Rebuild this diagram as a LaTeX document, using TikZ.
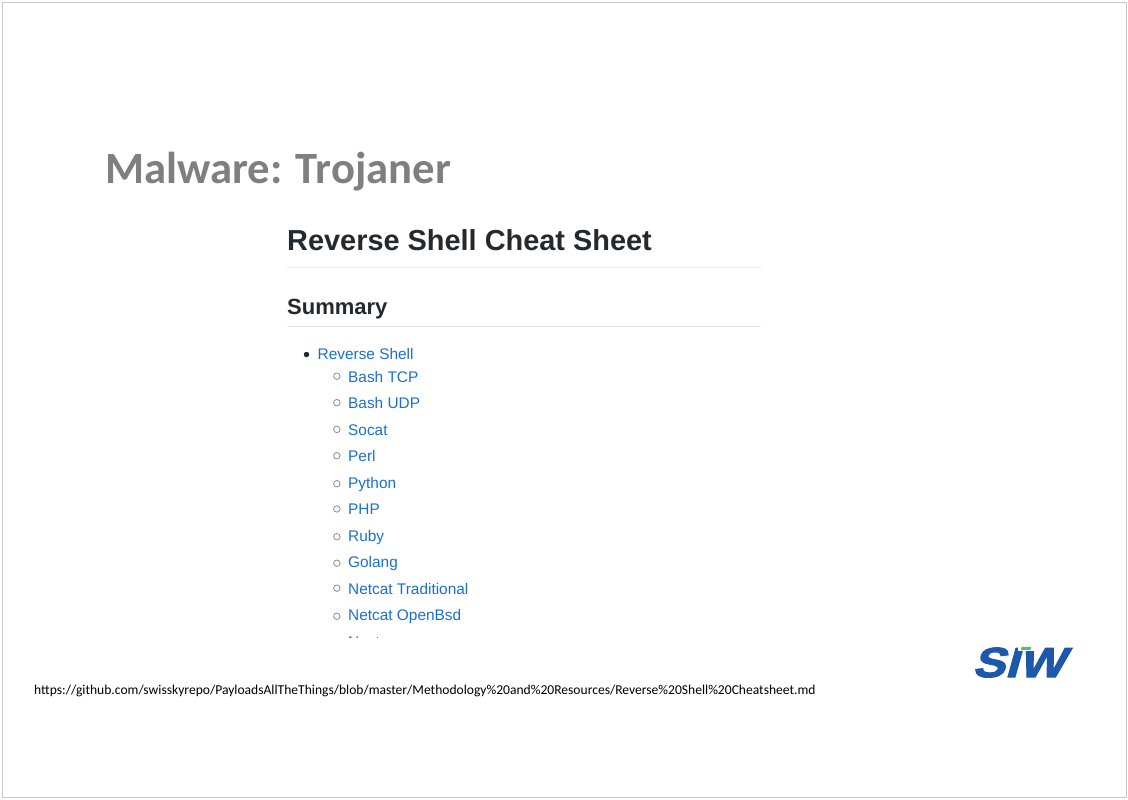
\documentclass[tikz,border=0pt]{standalone}
\usepackage{fontspec}
\setmainfont{Liberation Sans}
\newfontfamily\slidefont{Carlito}
\newfontfamily\logofont[FakeSlant=0.28,FakeStretch=1.16,FakeBold=2.5]{Liberation Sans Bold}
\usetikzlibrary{positioning}
\definecolor{framegray}{RGB}{200,200,200}
\definecolor{titlegray}{RGB}{127,127,127}
\definecolor{sheetink}{RGB}{36,41,46}
\definecolor{sheetrule}{RGB}{230,232,234}
\definecolor{linkblue}{RGB}{26,110,216}
\definecolor{logoblue}{RGB}{30,88,170}
\definecolor{logogreen}{RGB}{60,200,130}
\tikzset{
  heading/.style={
    anchor=base west,
    inner sep=0pt,
    text=sheetink,
    font=\bfseries\fontsize{#1}{#1}\selectfont
  },
  entry/.style={
    anchor=base west,
    inner sep=0pt,
    text=linkblue,
    font=\fontsize{15.4}{15.4}\selectfont
  },
  hollow/.style={
    circle,
    draw=black!45,
    fill=white,
    line width=.8pt,
    minimum size=6.5pt,
    inner sep=0pt,
    left=7.5pt of #1.west,
    yshift=.3pt
  }
}

\begin{document}
\begin{tikzpicture}[x=1pt,y=-1pt]
\useasboundingbox (0,0) rectangle (1128,800);
\draw[framegray, line width=1pt] (2.5,2.5) rectangle (1126.5,797.5);

\node[anchor=base west, inner sep=0pt, text=titlegray, font=\slidefont\bfseries\fontsize{44.7}{44.7}\selectfont] (title) at (105,183) {Malware: Trojaner};

\node[heading=28.9] (sheet) at (287,250) {Reverse Shell Cheat Sheet};
\draw[sheetrule] (287,267.5) -- (761,267.5);
\node[heading=22] (summary) at (287,314) {Summary};
\draw[sheetrule] (287,326.5) -- (761,326.5);

\node[entry] (shell) at (317.5,359) {Reverse Shell};
\node[circle, fill=sheetink, minimum size=5.5pt, inner sep=0pt] (dot) at (306.5,354.5) {};

\node[entry] (tcp) at (348,382) {Bash TCP};
\node[entry] (udp) at (348,408.5) {Bash UDP};
\node[entry] (socat) at (348,435) {Socat};
\node[entry] (perl) at (348,461.5) {Perl};
\node[entry] (python) at (348,488) {Python};
\node[entry] (php) at (348,514.5) {PHP};
\node[entry] (ruby) at (348,541) {Ruby};
\node[entry] (golang) at (348,567.5) {Golang};
\node[entry] (traditional) at (348,594) {Netcat Traditional};
\node[entry] (openbsd) at (348,620.5) {Netcat OpenBsd};
\begin{scope}
\clip (280,620) rectangle (500,637.5);
\node[entry] (ncat) at (348,647) {Ncat};
\end{scope}

\node[hollow=tcp] (m1) {};
\node[hollow=udp] (m2) {};
\node[hollow=socat] (m3) {};
\node[hollow=perl] (m4) {};
\node[hollow=python] (m5) {};
\node[hollow=php] (m6) {};
\node[hollow=ruby] (m7) {};
\node[hollow=golang] (m8) {};
\node[hollow=traditional] (m9) {};
\node[hollow=openbsd] (m10) {};

\node[anchor=base west, inner sep=0pt, font=\slidefont\fontsize{13.57}{13.57}\selectfont] (url) at (34,694) {https://github.com/swisskyrepo/PayloadsAllTheThings/blob/master/Methodology\%20and\%20Resources/Reverse\%20Shell\%20Cheatsheet.md};

\node[anchor=base west, inner sep=0pt, text=logoblue, font=\logofont\fontsize{42}{42}\selectfont] (logo) at (972,677) {SIW};
\fill[white] (1018,645.5) rectangle (1036,650.5);
\fill[logogreen] (1021.5,646.8) -- (1031,646.8) -- (1030.5,649.8) -- (1021,649.8) -- cycle;
\end{tikzpicture}
\end{document}
